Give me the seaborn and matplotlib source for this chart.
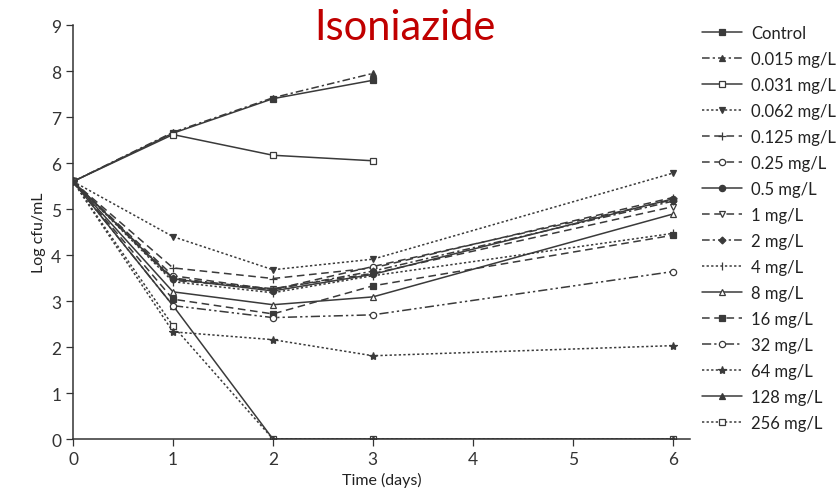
import numpy as np
import pandas as pd
import matplotlib
matplotlib.use("Agg")
import matplotlib.pyplot as plt
import seaborn as sns

days = [0, 1, 2, 3, 6]
labels = ["Control", "0.015 mg/L", "0.031 mg/L", "0.062 mg/L", "0.125 mg/L",
          "0.25 mg/L", "0.5 mg/L", "1 mg/L", "2 mg/L", "4 mg/L", "8 mg/L",
          "16 mg/L", "32 mg/L", "64 mg/L", "128 mg/L", "256 mg/L"]

nan = np.nan
control = [5.6, 6.65, 7.40, 7.80, nan]
c0015 = [5.6, 6.67, 7.42, 7.95, nan]
c0031 = [5.6, 6.62, 6.17, 6.05, nan]
c0062 = [5.6, 4.40, 3.68, 3.91, 5.78]
c0125 = [5.6, 3.72, 3.49, 3.72, 5.25]
c025 = [5.6, 3.55, 3.25, 3.75, 5.20]
c05 = [5.6, 3.48, 3.22, 3.58, 5.22]
c1 = [5.6, 3.45, 3.27, 3.60, 5.05]
c2 = [5.6, 3.50, 3.25, 3.65, 5.17]
c4 = [5.6, 3.42, 3.18, 3.55, 4.47]
c8 = [5.6, 3.20, 2.92, 3.09, 4.89]
c16 = [5.6, 3.04, 2.72, 3.33, 4.43]
c32 = [5.6, 2.90, 2.64, 2.70, 3.64]
c64 = [5.6, 2.33, 2.16, 1.81, 2.03]
c128 = [5.6, 2.90, 0.0, 0.0, 0.0]
c256 = [5.6, 2.46, 0.0, 0.0, 0.0]

series = [control, c0015, c0031, c0062, c0125, c025, c05, c1, c2, c4,
          c8, c16, c32, c64, c128, c256]

# line style, marker, marker filled
styles = [
    ("-", "s", True),
    ((0, (5, 2, 1.5, 2)), "^", True),
    ("-", "s", False),
    ((0, (1.5, 1.5)), "v", True),
    ((0, (5, 3)), "+", True),
    ((0, (5, 3)), "o", False),
    ("-", "o", True),
    ((0, (5, 3)), "v", False),
    ((0, (5, 2, 1.5, 2)), "D", True),
    ((0, (1.5, 1.5)), "|", True),
    ("-", "^", False),
    ((0, (5, 3)), "s", True),
    ((0, (6, 2, 1.5, 2, 1.5, 2)), "o", False),
    ((0, (1.5, 1.5)), "*", True),
    ("-", "^", True),
    ((0, (1.5, 1.5)), "s", False),
]

sns.set_style("ticks")
plt.rcParams["font.family"] = ["Lato", "DejaVu Sans"]

fig = plt.figure(figsize=(8.4, 5.02), dpi=100)
ax = fig.add_axes([0.087, 0.1235, 0.734, 0.8245])

line_color = "#3a3a3a"
n = len(labels)
for i, (lab, vals, (ls, mk, filled)) in enumerate(zip(labels, series, styles)):
    df = pd.DataFrame({"day": days, "value": vals}).dropna()
    ms = 4.5 if mk not in ("*", "+", "|") else 6
    if mk == "D":
        ms = 3.5
    # the highest doses sit underneath so their shared zero line shows filled marks
    z = 2 + (n - i) * 0.01 if i >= n - 2 else 2.5
    sns.lineplot(data=df, x="day", y="value", ax=ax, label=lab,
                 color=line_color, linewidth=1.1, linestyle=ls,
                 marker=mk, markersize=ms,
                 markerfacecolor=line_color if filled else "white",
                 markeredgecolor=line_color, markeredgewidth=0.9, zorder=z)

ax.set_xlim(0, 6.17)
ax.set_ylim(0, 9)
ax.set_xticks([0, 1, 2, 3, 4, 5, 6])
ax.set_yticks(range(0, 10))
ax.tick_params(axis="both", labelsize=12.5, length=5, width=0.9, colors="#333333")
ax.set_xlabel("Time (days)", fontsize=11.5, color="#222222")
ax.set_ylabel("Log cfu/mL", fontsize=11.5, color="#222222")
sns.despine(ax=ax)
for sp in ("left", "bottom"):
    ax.spines[sp].set_color("#333333")
    ax.spines[sp].set_linewidth(1.1)

leg = ax.legend(loc="upper left", bbox_to_anchor=(1.01, 1.016), frameon=False,
                fontsize=12, handlelength=2.4, labelspacing=0.6,
                handletextpad=0.5, borderaxespad=0.0)
for t in leg.get_texts():
    t.set_color("#222222")

fig.text(0.482, 0.944, "Isoniazide", color="#C00000", fontsize=30,
         ha="center", va="center", family=["Lato", "DejaVu Sans"])

fig.savefig("out.png", dpi=100, facecolor="white")
